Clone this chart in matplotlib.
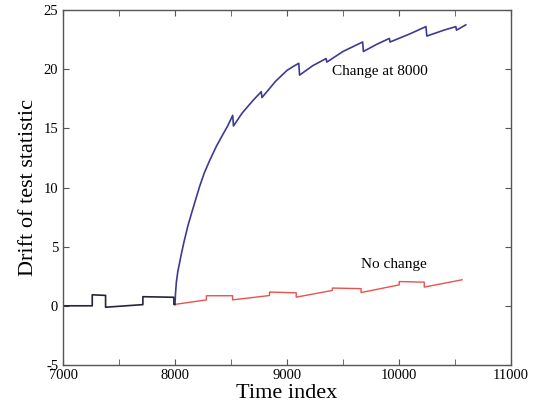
import matplotlib
matplotlib.use("Agg")
import matplotlib.pyplot as plt
from matplotlib.ticker import MultipleLocator

plt.rcParams['font.family'] = ['Liberation Serif', 'DejaVu Serif']
plt.rcParams['axes.unicode_minus'] = False

# before the change point (both curves identical)
pre_t = [7000, 7261, 7261, 7380, 7380, 7713, 7713, 7990, 7990, 8000]
pre_v = [0.0, 0.0, 0.93, 0.88, -0.12, 0.1, 0.77, 0.72, 0.12, 0.12]

# no change
nc_t = [8000, 8280, 8280, 8514, 8514, 8844, 8844, 9082, 9082, 9405, 9405,
        9661, 9661, 10002, 10002, 10225, 10225, 10563]
nc_v = [0.12, 0.5, 0.85, 0.85, 0.5, 0.87, 1.16, 1.1, 0.73, 1.3, 1.5,
        1.45, 1.12, 1.77, 2.05, 2.0, 1.58, 2.2]

# change at 8000
ch_t = [8000, 8004, 8012, 8025, 8040, 8057, 8080, 8116, 8150, 8191, 8220,
        8260, 8310, 8370, 8428, 8470, 8500, 8515, 8522,
        8600, 8700, 8770, 8776, 8900, 9000, 9050, 9105, 9112, 9230, 9349,
        9355, 9500, 9675, 9682, 9800, 9913, 9920, 10100, 10240, 10248,
        10400, 10507, 10513, 10596]
ch_v = [0.12, 1.0, 2.0, 2.9, 3.6, 4.4, 5.4, 6.8, 7.9, 9.2, 10.1,
        11.2, 12.3, 13.5, 14.5, 15.2, 15.8, 16.1, 15.2,
        16.3, 17.4, 18.1, 17.6, 19.0, 19.9, 20.2, 20.5, 19.5, 20.3, 20.9,
        20.6, 21.5, 22.3, 21.5, 22.1, 22.6, 22.3, 23.0, 23.6, 22.8,
        23.3, 23.6, 23.3, 23.75]

fig = plt.figure(figsize=(5.34, 4.19), dpi=100)
ax = fig.add_axes([0.118, 0.129, 0.839, 0.847])

ax.plot(ch_t, ch_v, color='#3b3b96', lw=1.2)
ax.plot(nc_t, nc_v, color='#e8524f', lw=1.0)
ax.plot(pre_t, pre_v, color='#25253a', lw=1.2)

ax.text(9405, 19.8, 'Change at 8000', fontsize=11, va='center', ha='left')
ax.text(9661, 3.45, 'No change', fontsize=11, va='center', ha='left')

ax.set_xlim(7000, 11000)
ax.set_ylim(-5, 25)
ax.xaxis.set_major_locator(MultipleLocator(1000))
ax.xaxis.set_minor_locator(MultipleLocator(500))
ax.yaxis.set_major_locator(MultipleLocator(5))
ax.tick_params(which='both', direction='in', top=True, right=True,
               labelsize=10.5, length=4, color='#555555')
ax.tick_params(axis='x', pad=3)
for s in ax.spines.values():
    s.set_color('#555555')
    s.set_linewidth(1.0)

ax.set_xlabel('Time index', fontsize=16, labelpad=1)
ax.set_ylabel('Drift of test statistic', fontsize=16, labelpad=4)

fig.savefig('out.png', dpi=100)
